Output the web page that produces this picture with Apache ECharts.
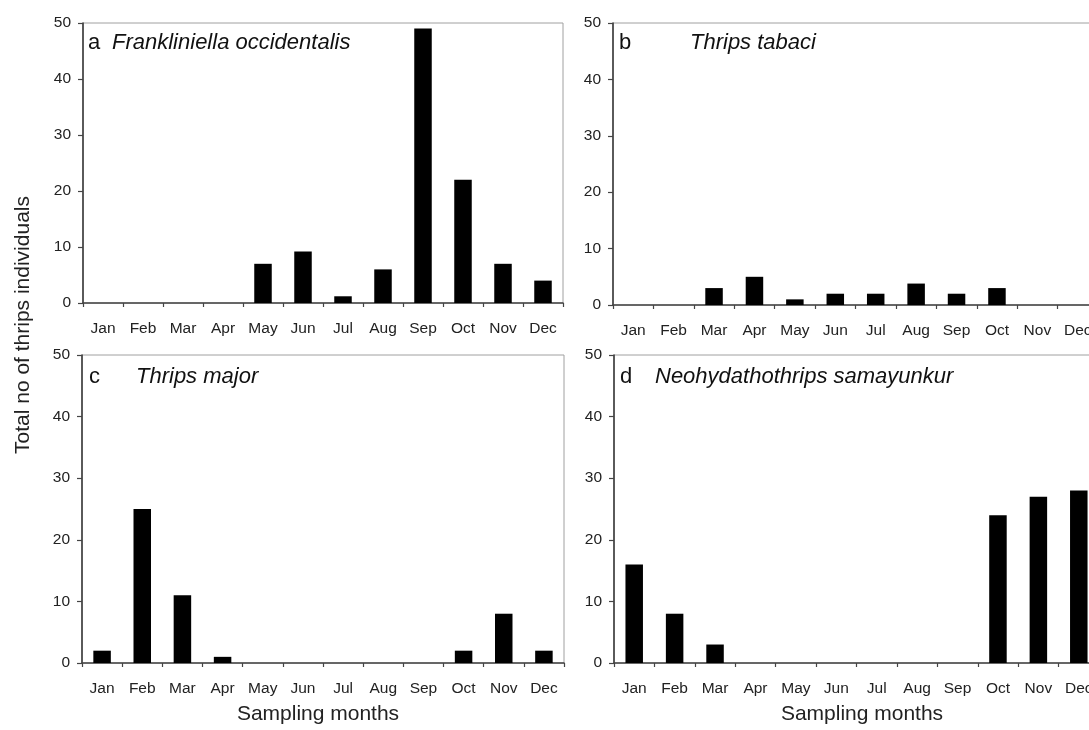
<!DOCTYPE html>
<html>
<head>
<meta charset="utf-8">
<script src="https://cdn.jsdelivr.net/npm/echarts@6/dist/echarts.min.js"></script>
<style>
html,body{margin:0;padding:0;background:#fff;overflow:hidden;width:1089px;height:730px;}
#chart{width:1110px;height:730px;}
</style>
</head>
<body>
<div id="chart"></div>
<script>
// ---- data ----
const months = ['Jan','Feb','Mar','Apr','May','Jun','Jul','Aug','Sep','Oct','Nov','Dec'];
const frankliniellaOccidentalis = [0,0,0,0,7,9.2,1.2,6,49,22,7,4];
const thripsTabaci = [0,0,3,5,1,2,2,3.8,2,3,0,0];
const thripsMajor = [2,25,11,1,0,0,0,0,0,2,8,2];
const neohydathothripsSamayunkur = [16,8,3,0,0,0,0,0,0,24,27,28];
const panelLetters = ['a','b','c','d'];
const panelNames = ['Frankliniella occidentalis','Thrips tabaci','Thrips major','Neohydathothrips samayunkur'];
const yMin = 0, yMax = 50, yInterval = 10;
const xAxisTitle = 'Sampling months';
const yAxisTitle = 'Total no of thrips individuals';

const seriesData = [frankliniellaOccidentalis, thripsTabaci, thripsMajor, neohydathothripsSamayunkur];

// ---- layout ----
const FONT = 'Liberation Sans, Arial, sans-serif';
const grids = [
  {left:83, top:23, width:480, height:280},
  {left:613, top:23, width:485, height:282},
  {left:82, top:355, width:482, height:308},
  {left:614, top:355, width:485, height:308}
];
const titlePos = [
  {lx:88, nx:112, y:43},
  {lx:619, nx:690, y:43},
  {lx:89, nx:136, y:377},
  {lx:620, nx:655, y:377}
];

const chart = echarts.init(document.getElementById('chart'), null, {renderer:'canvas', width:1110, height:730});

const option = {
  animation:false,
  backgroundColor:'#fff',
  grid: grids.map(g => Object.assign({show:true, borderColor:'#a0a0a0', borderWidth:1, containLabel:false}, g)),
  xAxis: grids.map((g,i) => ({
    type:'category', gridIndex:i, data:months, boundaryGap:true,
    axisLine:{show:true, lineStyle:{color:'#444', width:1.5}},
    axisTick:{show:true, length:4, lineStyle:{color:'#444', width:1.2}},
    axisLabel:{color:'#222', fontSize:15.5, fontFamily:FONT, margin:18, interval:0},
    splitLine:{show:false}
  })),
  yAxis: grids.map((g,i) => ({
    type:'value', gridIndex:i, min:yMin, max:yMax, interval:yInterval,
    axisLine:{show:true, lineStyle:{color:'#333', width:1.5}},
    axisTick:{show:true, length:5, lineStyle:{color:'#444', width:1.2}},
    axisLabel:{color:'#222', fontSize:15.5, fontFamily:FONT, margin:12},
    splitLine:{show:false}
  })),
  series: seriesData.map((d,i) => ({
    type:'bar', xAxisIndex:i, yAxisIndex:i, data:d, barWidth:17.5,
    itemStyle:{color:'#000'}, silent:true
  })),
  graphic: [].concat(
    titlePos.map((p,i) => ({type:'text', left:p.lx, top:p.y-11, style:{text:panelLetters[i], font:'22px '+FONT, fill:'#111'}})),
    titlePos.map((p,i) => ({type:'text', left:p.nx, top:p.y-11, style:{text:panelNames[i], font:'italic 22px '+FONT, fill:'#111'}})),
    [
      {type:'text', x:318, y:714, style:{text:xAxisTitle, font:'21px '+FONT, fill:'#222', textAlign:'center', textVerticalAlign:'middle'}},
      {type:'text', x:862, y:714, style:{text:xAxisTitle, font:'21px '+FONT, fill:'#222', textAlign:'center', textVerticalAlign:'middle'}},
      {type:'text', x:23, y:325, rotation:Math.PI/2, style:{text:yAxisTitle, font:'21px '+FONT, fill:'#222', textAlign:'center', textVerticalAlign:'middle'}}
    ]
  )
};
chart.setOption(option);
</script>
</body>
</html>
